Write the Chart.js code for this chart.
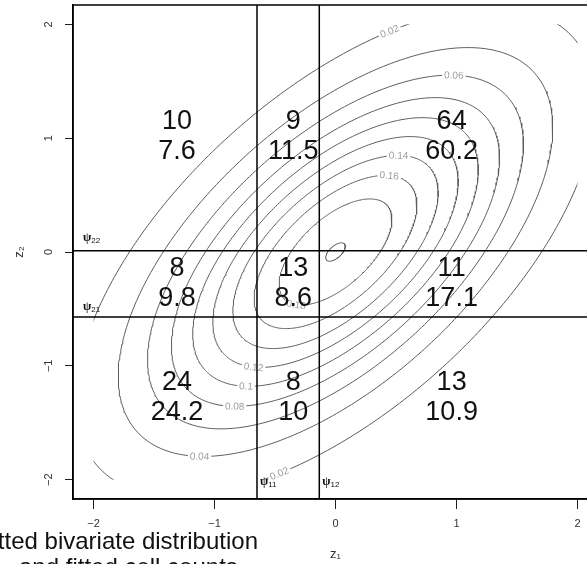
<!DOCTYPE html>
<html>
<head>
<meta charset="utf-8">
<script src="https://cdn.jsdelivr.net/npm/chart.js@4/dist/chart.umd.min.js"></script>
<style>
  body { margin: 0; width: 587px; height: 564px; overflow: hidden; background: #fff; position: relative;
         font-family: "Liberation Sans", Arial, sans-serif; }
  #area { position: absolute; left: 0; top: 0; }
  .legenda { position: absolute; font-size: 24px; line-height: 26px; color: #111; white-space: nowrap; }
</style>
</head>
<body>
<div id="area"><canvas id="grafico" width="600" height="564"></canvas></div>
<div class="legenda" style="right: 329px; top: 528px;">Fitted bivariate distribution</div>
<div class="legenda" style="left: 19px; top: 554px;">and fitted cell counts</div>
<script>
// Normal bivariada ajustada (médias 0, variâncias 1)
const rho = 0.609;
const niveis = [0.02, 0.04, 0.06, 0.08, 0.1, 0.12, 0.14, 0.16, 0.18, 0.2];
const grade = [-2, 2]; // faixa onde a densidade foi avaliada

// Pontos de corte
const psi1 = [-0.649, -0.134]; // em z1
const psi2 = [-0.572, 0.01];   // em z2

// Contagens por célula (linhas de cima para baixo, colunas da esquerda para a direita)
const observados = [[10, 9, 64], [8, 13, 11], [24, 8, 13]];
const ajustados = [[7.6, 11.5, 60.2], [9.8, 8.6, 17.1], [24.2, 10, 10.9]];

// Rótulos das curvas de nível
const rotuloNivel = [0.02, 0.02, 0.04, 0.06, 0.08, 0.1, 0.12, 0.14, 0.16, 0.18];
const rotuloX = [0.45, -0.46, -1.12, 0.97, -0.83, -0.74, -0.67, 0.51, 0.43, -0.31];
const rotuloY = [1.95, -1.93, -1.79, 1.54, -1.35, -1.18, -1.0, 0.83, 0.65, -0.44];

const xTicks = [-2, -1, 0, 1, 2];
const yTicks = [-2, -1, 0, 1, 2];
const limite = 2.17;

// posição dos números dentro das células (unidades dos eixos)
const colunaX = [-1.31, -0.35, 0.96];
const linhaY = [1.01, -0.276, -1.28];

const fonte = '"Liberation Sans", Arial, sans-serif';
const pico = 1 / (2 * Math.PI * Math.sqrt(1 - rho * rho));

function semiEixos(nivel) {
  const k = (1 - rho * rho) * 2 * Math.log(pico / nivel);
  return [Math.sqrt(k / (1 - rho)), Math.sqrt(k / (1 + rho))];
}

function pontoElipse(a, b, t) {
  const u = a * Math.cos(t);
  const v = b * Math.sin(t);
  return { x: (u + v) / Math.SQRT2, y: (u - v) / Math.SQRT2 };
}

function contorno(nivel) {
  const [a, b] = semiEixos(nivel);
  const pts = [];
  for (let i = 0; i <= 360; i++) pts.push(pontoElipse(a, b, i * Math.PI / 180));
  return pts;
}

function menos(v) {
  return v < 0 ? '\u2212' + Math.abs(v) : String(v);
}

const datasets = niveis.map(n => ({
  nivel: n,
  data: contorno(n),
  showLine: true,
  borderColor: '#5c5c5c',
  borderWidth: 1,
  pointRadius: 0,
  order: 2
}));

// linhas dos cortes
psi1.forEach(c => datasets.push({
  data: [{ x: c, y: -limite }, { x: c, y: limite }],
  showLine: true, borderColor: '#000', borderWidth: 1.5, pointRadius: 0, order: 0
}));
psi2.forEach(c => datasets.push({
  data: [{ x: -limite, y: c }, { x: limite, y: c }],
  showLine: true, borderColor: '#000', borderWidth: 1.5, pointRadius: 0, order: 0
}));

// recorta as curvas na grade e escreve o valor de cada nível
const rotulosContorno = {
  id: 'rotulosContorno',
  beforeDatasetDraw(chart, args) {
    const ds = chart.data.datasets[args.index];
    if (!ds.nivel) return;
    const { x, y } = chart.scales;
    const ctx = chart.ctx;
    const l = x.getPixelForValue(grade[0]), r = x.getPixelForValue(grade[1]);
    const t = y.getPixelForValue(grade[1]), b = y.getPixelForValue(grade[0]);
    ctx.save();
    ctx.beginPath();
    ctx.rect(l, t, r - l, b - t);
    ctx.clip();
  },
  afterDatasetDraw(chart, args) {
    const ds = chart.data.datasets[args.index];
    if (!ds.nivel) return;
    const { x, y } = chart.scales;
    const ctx = chart.ctx;
    const sx = x.getPixelForValue(1) - x.getPixelForValue(0);
    const sy = y.getPixelForValue(0) - y.getPixelForValue(1);
    rotuloNivel.forEach((nv, i) => {
      if (nv !== ds.nivel) return;
      const [a, b] = semiEixos(nv);
      const u = (rotuloX[i] + rotuloY[i]) / Math.SQRT2;
      const v = (rotuloX[i] - rotuloY[i]) / Math.SQRT2;
      const t = Math.atan2(v / b, u / a);
      const p = pontoElipse(a, b, t);
      const dx = (-a * Math.sin(t) + b * Math.cos(t)) / Math.SQRT2;
      const dy = (-a * Math.sin(t) - b * Math.cos(t)) / Math.SQRT2;
      let ang = Math.atan2(-dy * sy, dx * sx);
      if (ang > Math.PI / 2) ang -= Math.PI;
      if (ang < -Math.PI / 2) ang += Math.PI;
      const txt = String(nv);
      ctx.save();
      ctx.translate(x.getPixelForValue(p.x), y.getPixelForValue(p.y));
      ctx.rotate(ang);
      ctx.font = '10px ' + fonte;
      const w = ctx.measureText(txt).width;
      ctx.fillStyle = '#fff';
      ctx.fillRect(-w / 2 - 2, -5, w + 4, 10);
      ctx.fillStyle = '#9c9c9c';
      ctx.textAlign = 'center';
      ctx.textBaseline = 'middle';
      ctx.fillText(txt, 0, 0.5);
      ctx.restore();
    });
    ctx.restore();
  }
};

// moldura, contagens e nomes dos cortes
const celulas = {
  id: 'celulas',
  afterDatasetsDraw(chart) {
    const { ctx, chartArea: ca } = chart;
    const { x, y } = chart.scales;
    ctx.save();
    ctx.strokeStyle = '#000';
    ctx.lineWidth = 1.5;
    ctx.strokeRect(ca.left, ca.top, ca.right - ca.left, ca.bottom - ca.top);

    ctx.font = '27px ' + fonte;
    ctx.fillStyle = '#111';
    ctx.textAlign = 'center';
    ctx.textBaseline = 'middle';
    observados.forEach((linha, i) => {
      linha.forEach((obs, j) => {
        const px = x.getPixelForValue(colunaX[j]);
        const py = y.getPixelForValue(linhaY[i]);
        ctx.fillText(String(obs), px, py - 15);
        ctx.fillText(String(ajustados[i][j]), px, py + 15);
      });
    });

    function psi(txt, px, py) {
      ctx.textAlign = 'left';
      ctx.textBaseline = 'middle';
      ctx.fillStyle = '#111';
      ctx.font = 'bold 12px "Liberation Serif", serif';
      ctx.fillText('\u03c8', px, py);
      const w = ctx.measureText('\u03c8').width;
      ctx.font = '8px ' + fonte;
      ctx.fillText(txt, px + w, py + 3);
    }
    psi('22', ca.left + 10, y.getPixelForValue(psi2[1]) - 13);
    psi('21', ca.left + 10, y.getPixelForValue(psi2[0]) - 10);
    psi('11', x.getPixelForValue(psi1[0]) + 3, ca.bottom - 17);
    psi('12', x.getPixelForValue(psi1[1]) + 3, ca.bottom - 17);
    ctx.restore();
  }
};

const grafico = new Chart(document.getElementById('grafico').getContext('2d'), {
  type: 'scatter',
  data: { datasets },
  options: {
    responsive: false,
    animation: false,
    devicePixelRatio: 1,
    layout: { padding: { left: 0, top: 5, right: 2, bottom: 0 } },
    plugins: { legend: { display: false }, tooltip: { enabled: false } },
    scales: {
      x: {
        type: 'linear',
        min: -limite,
        max: limite,
        afterBuildTicks: s => { s.ticks = xTicks.map(v => ({ value: v })); },
        afterFit: s => { s.height = 65; s.paddingLeft = 0; s.paddingRight = 0; },
        grid: { drawOnChartArea: false, tickLength: 10, color: '#222', lineWidth: 1 },
        border: { display: true, color: '#000', width: 1.5 },
        ticks: { color: '#333', font: { size: 11, family: fonte }, padding: 8, maxRotation: 0,
                 autoSkip: false, callback: v => menos(v) },
        title: { display: true, text: 'z\u2081', color: '#333', font: { size: 13, family: fonte },
                 padding: { top: 0, bottom: 2 } }
      },
      y: {
        type: 'linear',
        min: -limite,
        max: limite,
        afterBuildTicks: s => { s.ticks = yTicks.map(v => ({ value: v })); },
        afterFit: s => { s.width = 73; s.paddingTop = 0; s.paddingBottom = 0; },
        grid: { drawOnChartArea: false, tickLength: 8, color: '#222', lineWidth: 1 },
        border: { display: true, color: '#000', width: 1.5 },
        ticks: { color: '#333', font: { size: 11, family: fonte }, padding: 10, minRotation: 90,
                 maxRotation: 90, crossAlign: 'center', autoSkip: false, callback: v => menos(v) },
        title: { display: true, text: 'z\u2082', color: '#333', font: { size: 13, family: fonte },
                 padding: { top: 12, bottom: 0 } }
      }
    }
  },
  plugins: [rotulosContorno, celulas]
});
</script>
</body>
</html>
